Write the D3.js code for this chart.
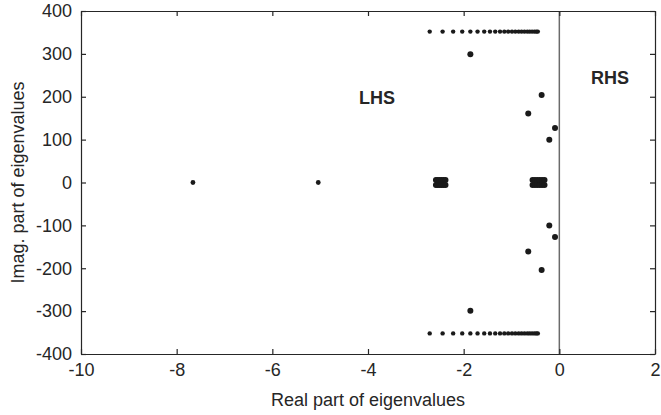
<!DOCTYPE html>
<html>
<head>
<meta charset="utf-8">
<script src="https://cdn.jsdelivr.net/npm/d3@7"></script>
<style>
  body { margin: 0; background: #fff; }
  text { font-family: "Liberation Sans", Arial, sans-serif; fill: #262626; }
</style>
</head>
<body>
<div id="container"></div>
<script>
var w = 661,
  h = 415;

// chart values
var xTicks = [-10, -8, -6, -4, -2, 0, 2];
var yTicks = [-400, -300, -200, -100, 0, 100, 200, 300, 400];

// row of eigenvalues at +/- 352
var rowRe = [-2.71, -2.44, -2.22, -2.03, -1.86, -1.71, -1.57, -1.45, -1.34, -1.24, -1.15,
  -1.07, -0.99, -0.92, -0.85, -0.79, -0.73, -0.67, -0.62, -0.57, -0.52, -0.48, -0.45];
var rowIm = 352;

// isolated eigenvalues [re, im]
var singles = [
  [-7.66, 0], [-5.04, 0],
  [-1.86, 299], [-1.86, -299],
  [-0.37, 204], [-0.37, -204],
  [-0.65, 161], [-0.65, -161],
  [-0.09, 127], [-0.09, -127],
  [-0.21, 100], [-0.21, -100]
];

// clusters near the real axis
var clusterRe = [-2.58, -2.54, -2.50, -2.46, -2.42, -2.38, -0.56, -0.51, -0.46, -0.41, -0.36, -0.31];
var clusterIm = [6, -6];

var labels = [{ t: "LHS", x: -3.81, y: 183 }, { t: "RHS", x: 1.06, y: 230 }];

var margin = { left: 81, right: 6, top: 11, bottom: 61 };

var svg = d3.select("#container").append("svg")
  .attr("width", w)
  .attr("height", h);

var xScale = d3.scaleLinear().domain([-10, 2]).range([margin.left, w - margin.right]);
var yScale = d3.scaleLinear().domain([-400, 400]).range([h - margin.bottom, margin.top]);

var axisColor = "#262626";
var fs = "18px";

// points
var pts = [];
rowRe.forEach(function (x) {
  pts.push({ x: x, y: rowIm, r: 2.2 });
  pts.push({ x: x, y: -rowIm, r: 2.2 });
});
singles.forEach(function (d) {
  pts.push({ x: d[0], y: d[1], r: d[1] === 0 ? 2.4 : 3.0 });
});
clusterRe.forEach(function (x) {
  clusterIm.forEach(function (y) {
    pts.push({ x: x, y: y, r: 3.0 });
  });
});

// zero line
svg.append("line")
  .attr("x1", xScale(0)).attr("x2", xScale(0))
  .attr("y1", yScale(400)).attr("y2", yScale(-400))
  .attr("stroke", "#6b6b6b")
  .attr("stroke-width", 1.5);

svg.append("g")
  .selectAll("circle")
  .data(pts)
  .enter()
  .append("circle")
  .attr("cx", d => xScale(d.x))
  .attr("cy", d => yScale(d.y))
  .attr("r", d => d.r)
  .attr("fill", "#1a1a1a");

// axes on all four sides, ticks inward
var gBottom = svg.append("g")
  .attr("transform", "translate(0," + yScale(-400) + ")")
  .call(d3.axisBottom(xScale).tickValues(xTicks).tickSizeInner(-5).tickSizeOuter(0).tickPadding(9));
var gTop = svg.append("g")
  .attr("transform", "translate(0," + yScale(400) + ")")
  .call(d3.axisTop(xScale).tickValues(xTicks).tickSizeInner(-5).tickSizeOuter(0).tickFormat(""));
var gLeft = svg.append("g")
  .attr("transform", "translate(" + xScale(-10) + ",0)")
  .call(d3.axisLeft(yScale).tickValues(yTicks).tickSizeInner(-5).tickSizeOuter(0).tickPadding(9));
var gRight = svg.append("g")
  .attr("transform", "translate(" + xScale(2) + ",0)")
  .call(d3.axisRight(yScale).tickValues(yTicks).tickSizeInner(-5).tickSizeOuter(0).tickFormat(""));

[gBottom, gTop, gLeft, gRight].forEach(function (g) {
  g.attr("font-family", null).attr("font-size", null);
  g.selectAll("path, line").attr("stroke", axisColor).attr("stroke-width", 1.2);
  g.selectAll("text")
    .style("font-size", fs)
    .attr("fill", axisColor)
    .text(function () { return d3.select(this).text().replace("\u2212", "-"); });
});

// axis titles
svg.append("text")
  .attr("x", (xScale(-10) + xScale(2)) / 2)
  .attr("y", 406)
  .attr("text-anchor", "middle")
  .style("font-size", fs)
  .text("Real part of eigenvalues");

svg.append("text")
  .attr("transform", "translate(24," + yScale(0) + ") rotate(-90)")
  .attr("text-anchor", "middle")
  .style("font-size", fs)
  .text("Imag. part of eigenvalues");

// region labels
svg.selectAll(".region")
  .data(labels)
  .enter()
  .append("text")
  .attr("class", "region")
  .attr("x", d => xScale(d.x))
  .attr("y", d => yScale(d.y))
  .attr("text-anchor", "middle")
  .style("font-size", fs)
  .style("font-weight", "bold")
  .text(d => d.t);
</script>
</body>
</html>
